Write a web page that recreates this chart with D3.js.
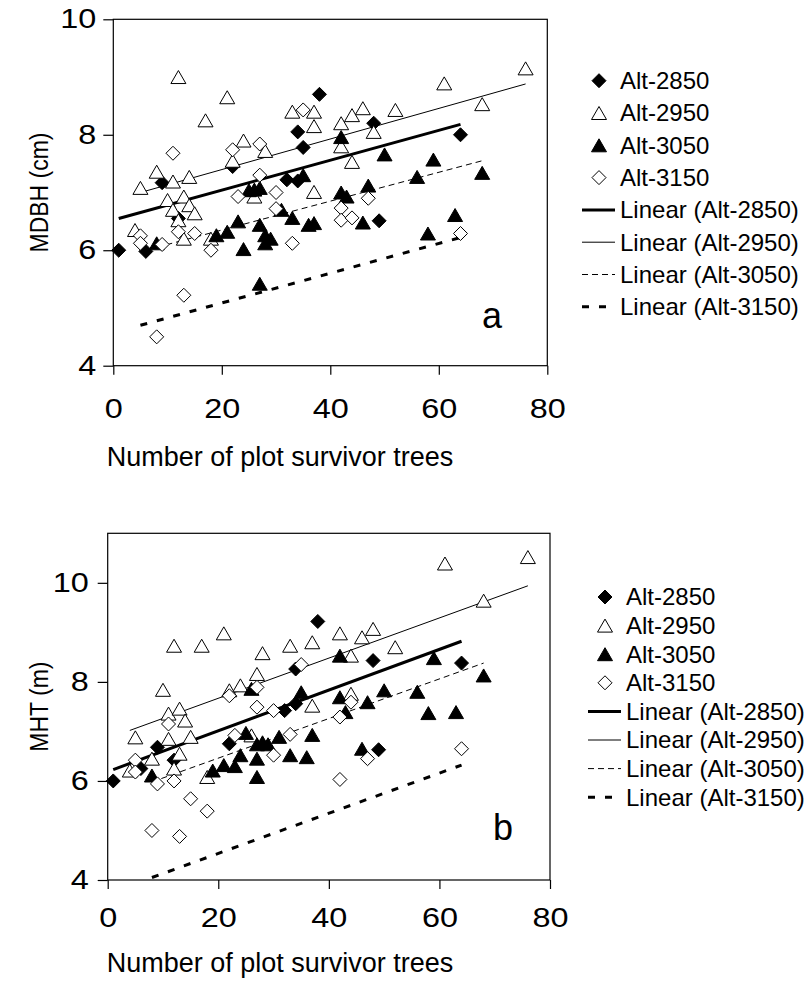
<!DOCTYPE html>
<html><head><meta charset="utf-8">
<script src="https://cdn.jsdelivr.net/npm/d3@7/dist/d3.min.js"></script>
<style>
body{margin:0;background:#fff}
text{font-family:"Liberation Sans", Arial, Helvetica, sans-serif; fill:#000}
</style>
</head><body>
<svg id="c" width="809" height="986"></svg>
<script>
// ---------- DATA ----------
const seriesNames = ["Alt-2850", "Alt-2950", "Alt-3050", "Alt-3150"];
const trendNames = ["Linear (Alt-2850)", "Linear (Alt-2950)", "Linear (Alt-3050)", "Linear (Alt-3150)"];
const xTicks = [0, 20, 40, 60, 80];
const yTicksA = [4, 6, 8, 10];
const yTicksB = [4, 6, 8, 10];

// Panel a: MDBH (cm) vs number of plot survivor trees
const a2850 = [[1,6.0],[6,5.98],[9,7.17],[12,6.55],[22,7.45],[32,7.22],[34,7.2],[34,8.05],[35,7.78],[38,8.7],[48,8.2],[49,6.51],[64,8.0]];
const a2950 = [[4,6.35],[5,7.08],[8,7.36],[10,6.87],[11,7.19],[11,6.7],[12,9.0],[12,6.52],[13,6.93],[13,6.2],[14,7.27],[14,6.78],[15,6.64],[17,8.25],[18,6.2],[21,8.65],[22,7.55],[24,7.9],[26,6.93],[28,7.72],[33,8.4],[37,8.4],[37,8.15],[37,7.01],[42,8.2],[42,7.8],[44,8.34],[44,7.53],[46,8.46],[48,8.05],[52,8.43],[61,8.89],[68,8.53],[76,9.15]];
const a3050 = [[8,6.12],[19,6.26],[21,6.32],[23,6.5],[24,6.02],[25,7.04],[26,7.05],[27,7.08],[27,6.44],[27,5.42],[28,6.26],[29,6.2],[28,6.12],[31,6.7],[33,6.56],[35,7.3],[36,6.44],[37,6.47],[42,7.96],[42,7.0],[43,6.93],[46,6.48],[47,7.12],[50,7.66],[56,7.27],[58,6.29],[59,7.57],[63,6.61],[68,7.34]];
const a3150 = [[5,6.25],[5,6.12],[8,4.5],[9,6.1],[11,7.68],[12,6.32],[13,5.22],[15,6.29],[18,6.0],[22,7.74],[23,6.93],[27,7.84],[27,7.3],[30,7.0],[30,6.72],[33,6.12],[35,8.43],[42,6.73],[42,6.52],[44,6.56],[47,6.9],[64,6.29]];
// trend lines: [xStart, yStart, xEnd, yEnd]
const aTrend2850 = [1, 6.55, 64, 8.18];
const aTrend2950 = [5, 7.0, 76, 8.88];
const aTrend3050 = [8, 6.05, 68, 7.55];
const aTrend3150 = [5, 4.7, 64, 6.22];

// Panel b: MHT (m) vs number of plot survivor trees
const b2850 = [[1,6.0],[6,6.25],[9,6.68],[12,6.42],[22,6.75],[32,7.42],[34,7.56],[34,8.26],[38,9.22],[48,8.43],[49,6.63],[64,8.38]];
const b2950 = [[4,6.21],[5,6.88],[8,6.45],[10,7.84],[11,7.36],[11,6.85],[12,8.73],[12,6.25],[13,7.46],[13,6.55],[14,7.22],[15,6.89],[17,8.73],[18,6.08],[21,8.98],[22,7.83],[24,7.93],[26,6.92],[27,8.16],[28,8.58],[33,8.73],[37,8.8],[37,7.52],[42,8.98],[44,8.53],[44,7.76],[46,8.9],[48,9.07],[52,8.7],[61,10.39],[68,9.64],[76,10.52]];
const b3050 = [[8,6.11],[19,6.21],[21,6.32],[23,6.3],[24,6.52],[25,6.97],[26,7.86],[27,6.08],[27,6.45],[27,6.74],[28,6.78],[29,6.74],[31,6.89],[33,6.52],[35,7.79],[36,6.48],[37,6.93],[42,8.53],[42,7.69],[43,7.39],[46,6.65],[47,7.59],[50,7.83],[56,7.8],[58,7.37],[59,8.48],[63,7.39],[68,8.13]];
const b3150 = [[5,6.42],[5,6.18],[8,5.0],[9,5.94],[11,7.15],[12,6.0],[13,4.88],[15,5.64],[18,5.39],[22,7.72],[23,6.92],[27,7.89],[27,7.49],[30,7.42],[30,6.52],[33,6.94],[35,8.35],[42,7.29],[42,6.03],[44,7.59],[47,6.45],[64,6.65]];
const bTrend2850 = [1, 6.23, 64, 8.82];
const bTrend2950 = [4, 7.02, 76, 9.94];
const bTrend3050 = [8, 5.98, 68, 8.38];
const bTrend3150 = [8, 4.05, 64, 6.32];

// ---------- STYLES ----------
const markerStyles = [
  {shape: "diamond", fill: "#000"},
  {shape: "triangle", fill: "#fff"},
  {shape: "triangle", fill: "#000"},
  {shape: "diamond", fill: "#fff"}
];
const lineStyles = [
  {w: 3, dash: null},
  {w: 1, dash: null},
  {w: 1, dash: "6,4"},
  {w: 3, dash: "7,10"}
];

function markerPath(shape) {
  const p = d3.path();
  if (shape === "diamond") {
    const r = 7;
    p.moveTo(0, -r); p.lineTo(r, 0); p.lineTo(0, r); p.lineTo(-r, 0); p.closePath();
  } else {
    const w = 15, h = 13;
    p.moveTo(0, -h / 2); p.lineTo(w / 2, h / 2); p.lineTo(-w / 2, h / 2); p.closePath();
  }
  return p.toString();
}

const svg = d3.select("#c");
const TICK_FONT = 27, TICK_STRETCH = 1.2;

function drawPanel(cfg) {
  const x = d3.scaleLinear().domain([0, 80]).range([cfg.left, cfg.right]);
  const y = d3.scaleLinear().domain(cfg.yDomain).range([cfg.bottom, cfg.top]);
  const g = svg.append("g");

  // frame
  g.append("rect")
    .attr("x", cfg.left).attr("y", cfg.top)
    .attr("width", cfg.right - cfg.left).attr("height", cfg.bottom - cfg.top)
    .attr("fill", "none").attr("stroke", "#000").attr("stroke-width", 1.2);

  // axes
  const xa = g.append("g").attr("transform", `translate(0,${cfg.bottom})`)
    .call(d3.axisBottom(x).tickValues(xTicks).tickSize(9).tickPadding(cfg.xPad).tickFormat(d3.format("d")));
  const ya = g.append("g").attr("transform", `translate(${cfg.left},0)`)
    .call(d3.axisLeft(y).tickValues(cfg.yTicks).tickSize(10).tickPadding(cfg.yPad).tickFormat(d3.format("d")));
  [xa, ya].forEach(a => {
    a.select(".domain").remove();
    a.selectAll(".tick line").attr("stroke", "#000").attr("stroke-width", 1.2);
    a.selectAll(".tick text")
      .attr("font-size", TICK_FONT)
      .attr("font-family", "Liberation Sans, Arial, sans-serif")
      .attr("fill", "#000")
      .each(function() {
        const t = d3.select(this);
        const tx = +t.attr("x") || 0;
        t.attr("x", 0).attr("transform", `translate(${tx},0) scale(${TICK_STRETCH},1)`);
      });
  });

  // trend lines
  const line = d3.line().x(d => x(d[0])).y(d => y(d[1]));
  cfg.trends.forEach((t, i) => {
    g.append("path")
      .attr("d", line([[t[0], t[1]], [t[2], t[3]]]))
      .attr("fill", "none").attr("stroke", "#000")
      .attr("stroke-width", lineStyles[i].w)
      .attr("stroke-dasharray", lineStyles[i].dash);
  });

  // markers
  cfg.series.forEach((s, i) => {
    g.append("g").selectAll("path").data(s).join("path")
      .attr("d", markerPath(markerStyles[i].shape))
      .attr("transform", d => `translate(${x(d[0])},${y(d[1])})`)
      .attr("fill", markerStyles[i].fill)
      .attr("stroke", "#000").attr("stroke-width", 1);
  });

  // axis titles
  g.append("text")
    .attr("x", cfg.xTitleX).attr("y", cfg.xTitleY)
    .attr("text-anchor", "middle").attr("font-size", 27)
    .text("Number of plot survivor trees");
  g.append("text")
    .attr("transform", `translate(${cfg.yTitleX},${(cfg.top + cfg.bottom) / 2}) rotate(-90) scale(1,1.15)`)
    .attr("text-anchor", "middle").attr("font-size", 23)
    .text(cfg.yTitle);

  // panel letter
  g.append("text").attr("x", cfg.letterX).attr("y", cfg.letterY)
    .attr("text-anchor", "middle").attr("font-size", 36).text(cfg.letter);

  // legend
  const lg = g.append("g");
  seriesNames.forEach((n, i) => {
    const yy = cfg.legY + i * cfg.legStep;
    lg.append("path").attr("d", markerPath(markerStyles[i].shape))
      .attr("transform", `translate(${cfg.legX},${yy})`)
      .attr("fill", markerStyles[i].fill).attr("stroke", "#000").attr("stroke-width", 1);
    lg.append("text").attr("x", cfg.legX + 21).attr("y", yy).attr("dy", "0.35em")
      .attr("font-size", 24).text(n);
  });
  trendNames.forEach((n, i) => {
    const yy = cfg.legY + (i + 4) * cfg.legStep;
    lg.append("line").attr("x1", cfg.legX - 17).attr("x2", cfg.legX + 16)
      .attr("y1", yy).attr("y2", yy)
      .attr("stroke", "#000").attr("stroke-width", lineStyles[i].w)
      .attr("stroke-dasharray", lineStyles[i].dash);
    lg.append("text").attr("x", cfg.legX + 21).attr("y", yy).attr("dy", "0.35em")
      .attr("font-size", 24).text(n);
  });
}

drawPanel({
  left: 113.3, right: 547.3, top: 19.3, bottom: 365.7,
  yDomain: [4, 10], yTicks: yTicksA, xPad: 24, yPad: 7,
  series: [a2850, a2950, a3050, a3150],
  trends: [aTrend2850, aTrend2950, aTrend3050, aTrend3150],
  xTitleX: 280, xTitleY: 466, yTitleX: 48, yTitle: "MDBH (cm)",
  letter: "a", letterX: 492, letterY: 328,
  legX: 599, legY: 80.7, legStep: 32.3
});

drawPanel({
  left: 107.7, right: 550, top: 533.3, bottom: 880,
  yDomain: [4, 11], yTicks: yTicksB, xPad: 19, yPad: 9,
  series: [b2850, b2950, b3050, b3150],
  trends: [bTrend2850, bTrend2950, bTrend3050, bTrend3150],
  xTitleX: 280, xTitleY: 972, yTitleX: 48, yTitle: "MHT (m)",
  letter: "b", letterX: 503, letterY: 840,
  legX: 605, legY: 597, legStep: 28.6
});
</script>
</body></html>
